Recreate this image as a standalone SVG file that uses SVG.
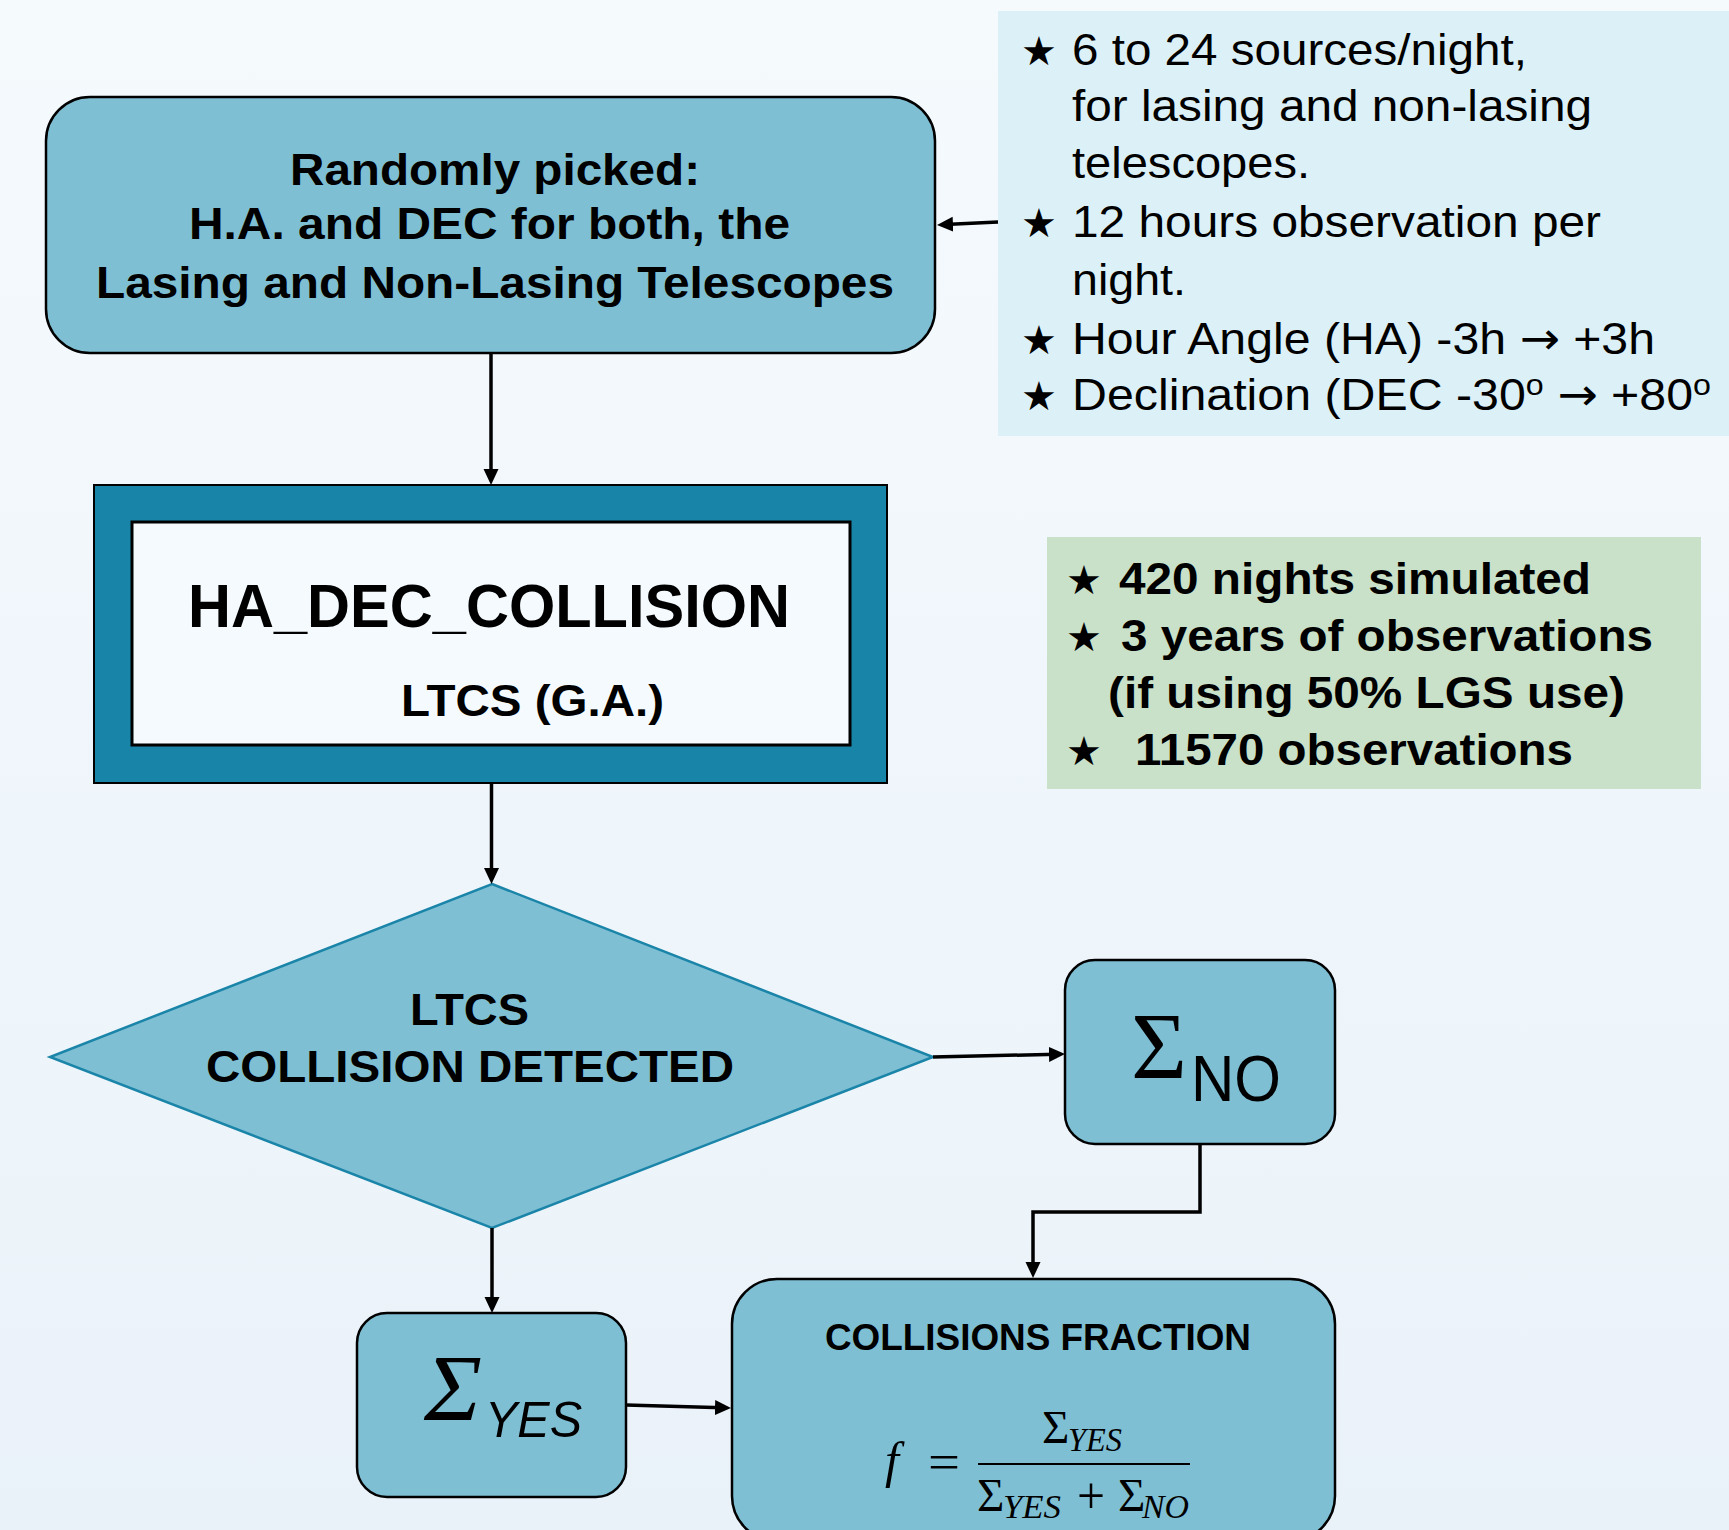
<svg xmlns="http://www.w3.org/2000/svg" width="1729" height="1530" viewBox="0 0 1729 1530">
  <defs>
    <linearGradient id="bg" x1="0" y1="0" x2="0" y2="1">
      <stop offset="0" stop-color="#f5fafd"/>
      <stop offset="1" stop-color="#eaf2f9"/>
    </linearGradient>
    <marker id="arrow" markerUnits="userSpaceOnUse" markerWidth="18" markerHeight="16" refX="8" refY="7.5" orient="auto">
      <path d="M0,0 L16,7.5 L0,15 Z" fill="#000"/>
    </marker>
    <style>
      .box{fill:#7fbfd4;stroke:#000;stroke-width:2.5}
      .conn{fill:none;stroke:#000;stroke-width:3.5;marker-end:url(#arrow)}
      .b{font-family:"Liberation Sans",Arial,sans-serif;font-weight:bold;fill:#000}
      .r{font-family:"Liberation Sans",Arial,sans-serif;fill:#000}
      .star{font-family:"DejaVu Sans",sans-serif;font-size:40px;fill:#000}
      .arr{font-family:"DejaVu Sans",sans-serif}
      .m{font-family:"Liberation Serif","Times New Roman",serif;fill:#000}
      .mi{font-family:"Liberation Serif","Times New Roman",serif;font-style:italic;fill:#000}
    </style>
  </defs>

  <!-- page background -->
  <rect x="0" y="0" width="1729" height="1530" fill="url(#bg)"/>

  <!-- source selection -->
  <g id="node-source">
    <rect class="box" x="46" y="97" width="889" height="256" rx="44"/>
    <text class="b" x="290" y="185" font-size="44" textLength="410" lengthAdjust="spacingAndGlyphs">Randomly picked:</text>
    <text class="b" x="189" y="239" font-size="44" textLength="601" lengthAdjust="spacingAndGlyphs">H.A. and DEC for both, the</text>
    <text class="b" x="96" y="298" font-size="44" textLength="798" lengthAdjust="spacingAndGlyphs">Lasing and Non-Lasing Telescopes</text>
  </g>

  <!-- observing parameters -->
  <g id="node-params">
    <rect x="998" y="11" width="731" height="425" fill="#dcf0f7"/>
    <text class="star" x="1021" y="65">★</text>
    <text class="r" x="1072" y="65" font-size="45" textLength="455" lengthAdjust="spacingAndGlyphs">6 to 24 sources/night,</text>
    <text class="r" x="1072" y="121" font-size="45" textLength="520" lengthAdjust="spacingAndGlyphs">for lasing and non-lasing</text>
    <text class="r" x="1072" y="178" font-size="45" textLength="238" lengthAdjust="spacingAndGlyphs">telescopes.</text>
    <text class="star" x="1021" y="237">★</text>
    <text class="r" x="1072" y="237" font-size="45" textLength="529" lengthAdjust="spacingAndGlyphs">12 hours observation per</text>
    <text class="r" x="1072" y="295" font-size="45" textLength="114" lengthAdjust="spacingAndGlyphs">night.</text>
    <text class="star" x="1021" y="354">★</text>
    <text class="r" x="1072" y="354" font-size="45" textLength="583" lengthAdjust="spacingAndGlyphs">Hour Angle (HA) -3h <tspan class="arr">→</tspan> +3h</text>
    <text class="star" x="1021" y="410">★</text>
    <text class="r" x="1072" y="410" font-size="45" textLength="639" lengthAdjust="spacingAndGlyphs">Declination (DEC -30<tspan dy="-15" font-size="30">o</tspan><tspan dy="15"> </tspan><tspan class="arr">→</tspan> +80<tspan dy="-15" font-size="30">o</tspan></text>
  </g>

  <!-- simulation core -->
  <g id="node-hadec">
    <rect x="94" y="485" width="793" height="298" fill="#1884a8" stroke="#000" stroke-width="2"/>
    <rect x="132" y="522" width="718" height="223" fill="#f4fafd" stroke="#000" stroke-width="3"/>
    <text class="b" x="188" y="627" font-size="61" textLength="602" lengthAdjust="spacingAndGlyphs">HA_DEC_COLLISION</text>
    <text class="b" x="401" y="716" font-size="45" textLength="263" lengthAdjust="spacingAndGlyphs">LTCS (G.A.)</text>
  </g>

  <!-- run statistics -->
  <g id="node-stats">
    <rect x="1047" y="537" width="654" height="252" fill="#c9e0c9"/>
    <text class="star" x="1066" y="594">★</text>
    <text class="b" x="1119" y="594" font-size="44" textLength="472" lengthAdjust="spacingAndGlyphs">420 nights simulated</text>
    <text class="star" x="1066" y="651">★</text>
    <text class="b" x="1121" y="651" font-size="44" textLength="532" lengthAdjust="spacingAndGlyphs">3 years of observations</text>
    <text class="b" x="1108" y="708" font-size="44" textLength="517" lengthAdjust="spacingAndGlyphs">(if using 50% LGS use)</text>
    <text class="star" x="1066" y="765">★</text>
    <text class="b" x="1135" y="765" font-size="44" textLength="438" lengthAdjust="spacingAndGlyphs">11570 observations</text>
  </g>

  <!-- decision -->
  <g id="node-decision">
    <polygon points="492,884 933,1057 492,1228 50,1057" fill="#7fbfd4" stroke="#1a85a8" stroke-width="2.5"/>
    <text class="b" x="410" y="1025" font-size="44" textLength="119" lengthAdjust="spacingAndGlyphs">LTCS</text>
    <text class="b" x="206" y="1082" font-size="44" textLength="528" lengthAdjust="spacingAndGlyphs">COLLISION DETECTED</text>
  </g>

  <!-- counters -->
  <g id="node-sum-no">
    <rect class="box" x="1065" y="960" width="270" height="184" rx="30"/>
    <text class="m" x="1131" y="1079" font-size="95" textLength="56" lengthAdjust="spacingAndGlyphs">Σ</text>
    <text class="r" x="1191" y="1101" font-size="64" textLength="90" lengthAdjust="spacingAndGlyphs">NO</text>
  </g>

  <g id="node-sum-yes">
    <rect class="box" x="357" y="1313" width="269" height="184" rx="30"/>
    <text class="mi" x="424" y="1421" font-size="95" textLength="58" lengthAdjust="spacingAndGlyphs">Σ</text>
    <text class="r" x="485" y="1437" font-size="50" font-style="italic" textLength="97" lengthAdjust="spacingAndGlyphs">YES</text>
  </g>

  <!-- result -->
  <g id="node-fraction">
    <rect class="box" x="732" y="1279" width="603" height="262" rx="45"/>
    <text class="b" x="825" y="1350" font-size="36" textLength="426" lengthAdjust="spacingAndGlyphs">COLLISIONS FRACTION</text>
    <text class="mi" x="885" y="1477" font-size="50">f</text>
    <text class="m" x="928" y="1479" font-size="50" textLength="32" lengthAdjust="spacingAndGlyphs">=</text>
    <text class="m" x="1042" y="1443" font-size="47">Σ</text>
    <text class="mi" x="1068" y="1451" font-size="33" textLength="54" lengthAdjust="spacingAndGlyphs">YES</text>
    <line x1="978" y1="1464" x2="1190" y2="1464" stroke="#000" stroke-width="2"/>
    <text class="m" x="977" y="1511" font-size="47">Σ</text>
    <text class="mi" x="1003" y="1518" font-size="33" textLength="58" lengthAdjust="spacingAndGlyphs">YES</text>
    <text class="m" x="1077" y="1513" font-size="52" textLength="28" lengthAdjust="spacingAndGlyphs">+</text>
    <text class="m" x="1118" y="1511" font-size="47">Σ</text>
    <text class="mi" x="1142" y="1518" font-size="33" textLength="47" lengthAdjust="spacingAndGlyphs">NO</text>
  </g>

  <!-- flow -->
  <g id="connectors">
    <line class="conn" x1="998" y1="222" x2="945" y2="224.6"/>
    <line class="conn" x1="491" y1="353" x2="491" y2="477"/>
    <line class="conn" x1="491.5" y1="783" x2="491.5" y2="876"/>
    <line class="conn" x1="933" y1="1057" x2="1057" y2="1054.2"/>
    <line class="conn" x1="492" y1="1228" x2="492" y2="1305"/>
    <path class="conn" d="M1200,1145 V1212 H1033 V1270"/>
    <line class="conn" x1="626" y1="1405" x2="723" y2="1407.8"/>
  </g>
</svg>
